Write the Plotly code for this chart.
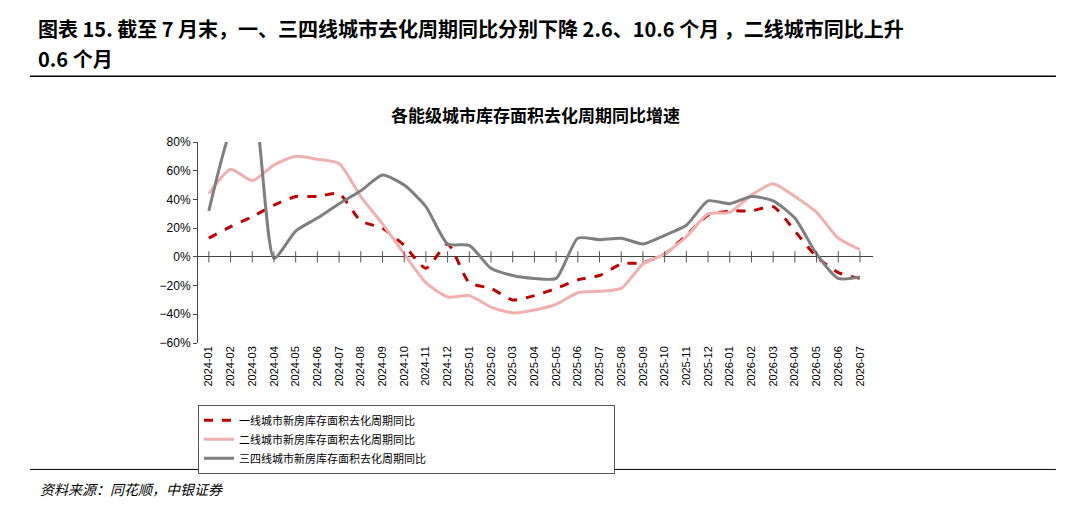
import plotly.graph_objects as go

months = [f"{y}-{m:02d}" for y in (2024, 2025, 2026) for m in range(1, 13)][:31]

tier1 = [13, 21, 28, 36, 42, 42, 44, 25, 20, 8, -8, 9,
         -18, -22, -30, -27, -22, -16, -13, -5, -4, 2, 15, 29,
         32, 32, 35, 18, 0, -11, -15]
tier2 = [44, 61, 53, 64, 70, 68, 65, 42, 23, 2, -18, -28,
         -27, -35, -39, -37, -33, -25, -24, -22, -5, 2, 14, 30,
         31, 43, 51, 42, 31, 13, 5]
tier34 = [32, 88, 110, -1, 18, 27, 37, 46, 57, 50, 35, 9,
          8, -8, -13, -15, -15, 13, 12, 13, 9, 15, 22, 39,
          37, 42, 39, 27, 2, -15, -14]

names = ["一线城市新房库存面积去化周期同比", "二线城市新房库存面积去化周期同比",
         "三四线城市新房库存面积去化周期同比"]

fig = go.Figure()
fig.add_trace(go.Scatter(x=months, y=tier1, name=names[0], mode="lines",
                         line=dict(color="#c00000", width=3, dash="dash", shape="spline", smoothing=0.6)))
fig.add_trace(go.Scatter(x=months, y=tier2, name=names[1], mode="lines",
                         line=dict(color="#f0b0b0", width=3, shape="spline", smoothing=0.6)))
fig.add_trace(go.Scatter(x=months, y=tier34, name=names[2], mode="lines",
                         line=dict(color="#7f7f7f", width=3, shape="spline", smoothing=0.6)))
# tick marks along the zero line
fig.add_trace(go.Scatter(x=months, y=[0] * len(months), mode="markers", showlegend=False,
                         hoverinfo="skip",
                         marker=dict(symbol="line-ns", size=8, line=dict(color="#555", width=1))))

font = "Noto Sans CJK SC"
fig.update_layout(
    width=1080, height=511, margin=dict(l=190, r=215, t=134, b=176),
    paper_bgcolor="white", plot_bgcolor="white",
    font=dict(family=font, size=11, color="black"),
    showlegend=True,
    legend=dict(orientation="h", x=0.0, y=-0.307, xanchor="left", yanchor="top",
                bordercolor="#555", borderwidth=1, font=dict(size=11),
                entrywidth=370, tracegroupgap=0),
    xaxis=dict(type="category", tickangle=-90, showgrid=False, ticks="",
               tickfont=dict(family="Liberation Sans", size=11), showline=False,
               range=[-0.5, 30.6]),
    yaxis=dict(range=[-60, 80], dtick=20, ticksuffix="%", showgrid=False,
               zeroline=True, zerolinecolor="#444", zerolinewidth=1,
               showline=True, linecolor="#444", ticks="outside", ticklen=4,
               tickfont=dict(family="Liberation Sans", size=12)),
)
fig.add_annotation(text="<b>图表 15. 截至 7 月末，一、三四线城市去化周期同比分别下降 2.6、10.6 个月 ，二线城市同比上升</b>",
                   xref="paper", yref="paper", x=-0.24, y=1.564, xanchor="left", yanchor="middle",
                   showarrow=False, font=dict(size=20, family=font))
fig.add_annotation(text="<b>0.6 个月</b>", xref="paper", yref="paper", x=-0.24, y=1.416,
                   xanchor="left", yanchor="middle", showarrow=False, font=dict(size=20, family=font))
fig.add_annotation(text="<b>各能级城市库存面积去化周期同比增速</b>", xref="paper", yref="paper",
                   x=0.5, y=1.139, yanchor="middle", showarrow=False, font=dict(size=17, family=font))
fig.add_annotation(text="<i>资料来源：同花顺，中银证券</i>", xref="paper", yref="paper",
                   x=-0.237, y=-0.728, xanchor="left", yanchor="middle", showarrow=False,
                   font=dict(size=14, family=font))
fig.add_shape(type="line", xref="paper", yref="paper", x0=-0.249, x1=1.271, y0=1.327, y1=1.327,
              line=dict(color="black", width=1.5))
fig.add_shape(type="line", xref="paper", yref="paper", x0=-0.249, x1=1.271, y0=-0.629, y1=-0.629,
              line=dict(color="black", width=1))

fig.write_html("out.html")
